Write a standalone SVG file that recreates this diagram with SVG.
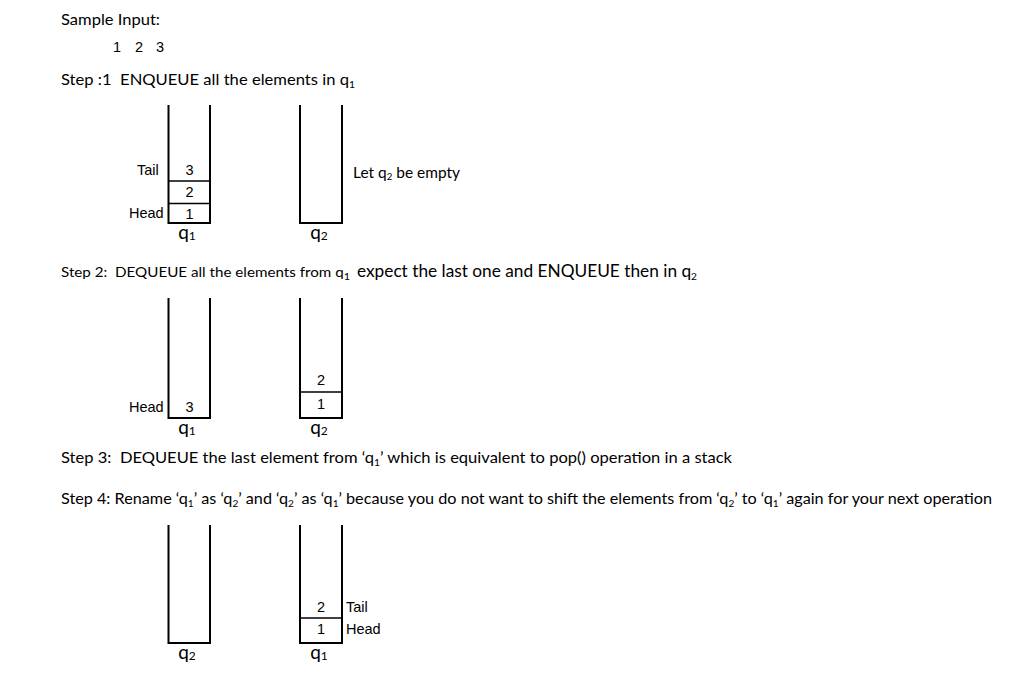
<svg xmlns="http://www.w3.org/2000/svg" width="1018" height="686" viewBox="0 0 1018 686">
<style>
  .t { font-family: Lato, "Open Sans", sans-serif; font-size: 16px; fill: #000; }
  .a { font-family: "Liberation Sans", Arial, sans-serif; font-size: 14.5px; fill: #000; }
  .c { text-anchor: middle; }
  .q { font-family: Lato, sans-serif; font-size: 19px; fill: #000; text-anchor: middle; }
  .sub { font-size: 10px; }
  .qs { font-size: 12px; }
  .box { fill: none; stroke: #000; stroke-width: 2; }
  .cell { stroke: #000; stroke-width: 1.5; }
</style>
<rect width="1018" height="686" fill="#fff"/>

<g id="texts">
  <text class="t" x="61" y="25" textLength="99" lengthAdjust="spacingAndGlyphs">Sample Input:</text>
  <text class="a" x="113 135 156" y="52">123</text>
  <text class="t" x="61" y="85" xml:space="preserve" textLength="294" lengthAdjust="spacingAndGlyphs">Step :1  ENQUEUE all the elements in q<tspan class="sub" dy="3">1</tspan></text>
  <text class="t" x="61" y="277" xml:space="preserve" style="font-size:14px" textLength="289" lengthAdjust="spacingAndGlyphs">Step 2:  DEQUEUE all the elements from q<tspan class="sub" dy="3">1</tspan></text>
  <text class="t" x="357" y="277" style="font-size:17px" textLength="340" lengthAdjust="spacingAndGlyphs">expect the last one and ENQUEUE then in q<tspan class="sub" dy="3">2</tspan></text>
  <text class="t" x="61" y="463" xml:space="preserve" textLength="671" lengthAdjust="spacingAndGlyphs">Step 3:  DEQUEUE the last element from ‘q<tspan class="sub" dy="3">1</tspan><tspan dy="-3">’ which is equivalent to pop() operation in a stack</tspan></text>
  <text class="t" x="61" y="504" xml:space="preserve" textLength="931" lengthAdjust="spacingAndGlyphs">Step 4: Rename ‘q<tspan class="sub" dy="3">1</tspan><tspan dy="-3">’ as ‘q</tspan><tspan class="sub" dy="3">2</tspan><tspan dy="-3">’ and ‘q</tspan><tspan class="sub" dy="3">2</tspan><tspan dy="-3">’ as ‘q</tspan><tspan class="sub" dy="3">1</tspan><tspan dy="-3">’ because you do not want to shift the elements from ‘q</tspan><tspan class="sub" dy="3">2</tspan><tspan dy="-3">’ to ‘q</tspan><tspan class="sub" dy="3">1</tspan><tspan dy="-3">’ again for your next operation</tspan></text>
</g>

<!-- Step 1 -->
<g id="s1-q1">
  <path class="box" d="M168.5,105 V223 H210 V105"/>
  <line class="cell" x1="168.5" y1="181" x2="210" y2="181"/>
  <line class="cell" x1="168.5" y1="203.5" x2="210" y2="203.5"/>
  <text class="a c" x="189.5" y="175">3</text>
  <text class="a c" x="189.5" y="197">2</text>
  <text class="a c" x="189.5" y="219">1</text>
  <text class="a" x="137" y="175">Tail</text>
  <text class="a" x="129" y="218">Head</text>
  <text class="q" x="187" y="239">q<tspan class="qs" dy="1">1</tspan></text>
</g>
<g id="s1-q2">
  <path class="box" d="M300,105 V223 H342 V105"/>
  <text class="q" x="319" y="239">q<tspan class="qs" dy="1">2</tspan></text>
  <text class="t" x="353" y="178" textLength="107" lengthAdjust="spacingAndGlyphs">Let q<tspan class="sub" dy="2">2</tspan><tspan dy="-2"> be empty</tspan></text>
</g>

<!-- Step 2 -->
<g id="s2-q1">
  <path class="box" d="M168.5,298 V418 H210 V298"/>
  <text class="a c" x="189.5" y="412">3</text>
  <text class="a" x="129" y="412">Head</text>
  <text class="q" x="187" y="434">q<tspan class="qs" dy="1">1</tspan></text>
</g>
<g id="s2-q2">
  <path class="box" d="M300,298 V418 H342 V298"/>
  <line class="cell" x1="300" y1="392" x2="342" y2="392"/>
  <text class="a c" x="321" y="385">2</text>
  <text class="a c" x="321" y="409">1</text>
  <text class="q" x="319" y="434">q<tspan class="qs" dy="1">2</tspan></text>
</g>

<!-- Step 4 -->
<g id="s4-q2">
  <path class="box" d="M168.5,525 V643 H210 V525"/>
  <text class="q" x="187" y="659">q<tspan class="qs" dy="1">2</tspan></text>
</g>
<g id="s4-q1">
  <path class="box" d="M300,525 V643 H342 V525"/>
  <line class="cell" x1="300" y1="618" x2="342" y2="618"/>
  <text class="a c" x="321" y="612">2</text>
  <text class="a c" x="321" y="634">1</text>
  <text class="a" x="346" y="612">Tail</text>
  <text class="a" x="346" y="634">Head</text>
  <text class="q" x="319" y="659">q<tspan class="qs" dy="1">1</tspan></text>
</g>
</svg>
